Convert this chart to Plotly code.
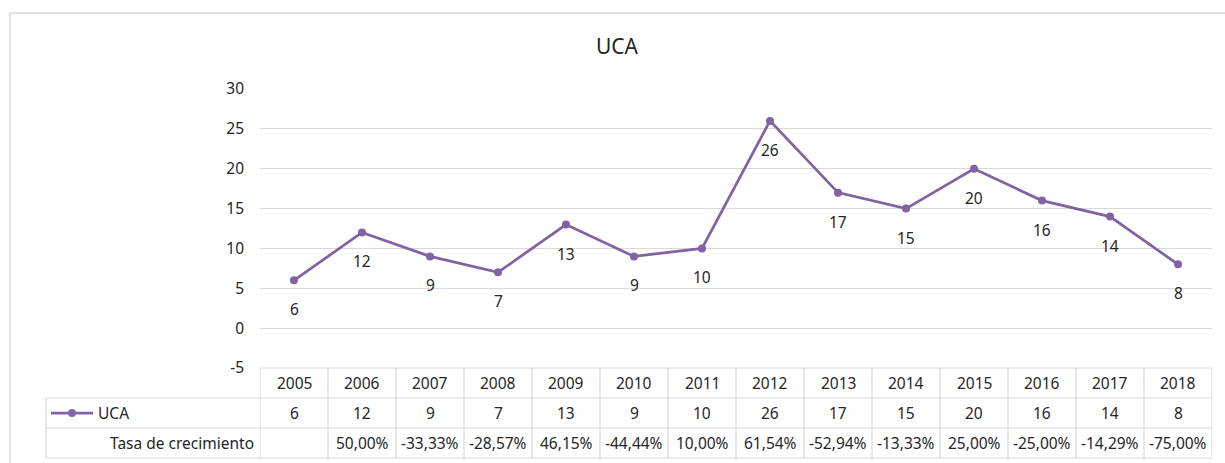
import plotly.graph_objects as go

years = [2005, 2006, 2007, 2008, 2009, 2010, 2011, 2012, 2013, 2014, 2015, 2016, 2017, 2018]
uca = [6, 12, 9, 7, 13, 9, 10, 26, 17, 15, 20, 16, 14, 8]
growth = ["", "50,00%", "-33,33%", "-28,57%", "46,15%", "-44,44%", "10,00%", "61,54%",
          "-52,94%", "-13,33%", "25,00%", "-25,00%", "-14,29%", "-75,00%"]
series_name = "UCA"
growth_name = "Tasa de crecimiento"
title = "UCA"
y_ticks = [-5, 0, 5, 10, 15, 20, 25, 30]
y_tick_text = ["-5", "0", "5", "10", "15", "20", "25", "30"]

W, H = 1225, 463
FONT = "Noto Sans, Open Sans, sans-serif"
TXT = "#262626"
GRID = "#d9d9d9"
PURPLE = "#8064a2"
FS = 15.5


def px(xp):
    return xp / W


def py(yp):
    return 1 - yp / H


plot_l, plot_r = 260, 1212
plot_t, plot_b = 89, 368
row_y = [368, 398, 428, 458]
legend_l = 46

fig = go.Figure()
fig.add_trace(go.Scatter(
    x=years, y=uca, mode="lines+markers", name=series_name,
    line=dict(color=PURPLE, width=2.75),
    marker=dict(color=PURPLE, size=8),
    hoverinfo="x+y",
))

annotations = []
for xv, yv in zip(years, uca):
    annotations.append(dict(x=xv, y=yv, xref="x", yref="y", text=str(yv), showarrow=False,
                            xanchor="center", yanchor="middle",
                            yshift=-29, font=dict(family=FONT, size=FS, color=TXT)))

cy = [(row_y[i] + row_y[i + 1]) / 2 for i in range(3)]
rows = [[str(v) for v in years], [str(v) for v in uca], growth]
for r, texts in enumerate(rows):
    for xv, t in zip(years, texts):
        annotations.append(dict(x=xv, y=py(cy[r]), xref="x", yref="paper", text=t,
                                xanchor="center", yanchor="middle",
                                showarrow=False, font=dict(family=FONT, size=FS, color=TXT)))

annotations.append(dict(x=px(96), y=py(cy[1]), xref="paper", yref="paper", text=series_name,
                        xanchor="left", yanchor="middle", showarrow=False,
                        font=dict(family=FONT, size=FS, color=TXT)))
annotations.append(dict(x=px(256), y=py(cy[2]), xref="paper", yref="paper", text=growth_name,
                        xanchor="right", yanchor="middle", showarrow=False,
                        font=dict(family=FONT, size=FS, color=TXT)))

shapes = []
shapes.append(dict(type="rect", xref="paper", yref="paper", x0=px(10), x1=px(1240),
                   y0=py(480), y1=py(13), line=dict(color=GRID, width=1.5), layer="below"))
shapes.append(dict(type="line", xref="x", yref="paper", x0=years[0] - 0.5, x1=years[-1] + 0.5,
                   y0=py(row_y[0]), y1=py(row_y[0]), line=dict(color=GRID, width=1.2)))
for r in row_y[1:]:
    shapes.append(dict(type="line", xref="paper", yref="paper", x0=px(legend_l), x1=px(plot_r),
                       y0=py(r), y1=py(r), line=dict(color=GRID, width=1.2)))
for i in range(len(years) + 1):
    xv = years[0] - 0.5 + i
    shapes.append(dict(type="line", xref="x", yref="paper", x0=xv, x1=xv,
                       y0=py(row_y[0]), y1=py(row_y[3]), line=dict(color=GRID, width=1.2)))
shapes.append(dict(type="line", xref="paper", yref="paper", x0=px(legend_l), x1=px(legend_l),
                   y0=py(row_y[1]), y1=py(row_y[3]), line=dict(color=GRID, width=1.2)))
shapes.append(dict(type="line", xref="paper", yref="paper", x0=px(51), x1=px(93),
                   y0=py(cy[1]), y1=py(cy[1]), line=dict(color=PURPLE, width=2.75)))
shapes.append(dict(type="circle", xref="paper", yref="paper", x0=px(68), x1=px(76),
                   y0=py(cy[1] + 4), y1=py(cy[1] - 4), fillcolor=PURPLE, line=dict(color=PURPLE, width=0)))

fig.update_layout(
    template="none",
    width=W, height=H,
    margin=dict(l=0, r=0, t=0, b=0, pad=0, autoexpand=False),
    paper_bgcolor="white", plot_bgcolor="white",
    showlegend=False,
    title=dict(text=title, x=px(617), y=py(47), xref="paper", yref="paper",
               xanchor="center", yanchor="middle",
               font=dict(family=FONT, size=21, color=TXT)),
    xaxis=dict(domain=[px(plot_l), px(plot_r)], range=[years[0] - 0.5, years[-1] + 0.5],
               showticklabels=False, showgrid=False, zeroline=False, showline=False, ticks="",
               automargin=False),
    yaxis=dict(domain=[py(plot_b), py(plot_t)], range=[-5, 30], tickvals=y_ticks,
               ticktext=y_tick_text,
               showgrid=True, gridcolor=GRID, gridwidth=1.2, zeroline=False, showline=False,
               ticks="", ticklabelstandoff=15, automargin=False,
               tickfont=dict(family=FONT, size=FS, color=TXT)),
    annotations=annotations,
    shapes=shapes,
)

fig.write_html("out.html", config={"displayModeBar": False},
               post_script="document.body.style.margin='0';document.body.style.overflow='hidden';")
